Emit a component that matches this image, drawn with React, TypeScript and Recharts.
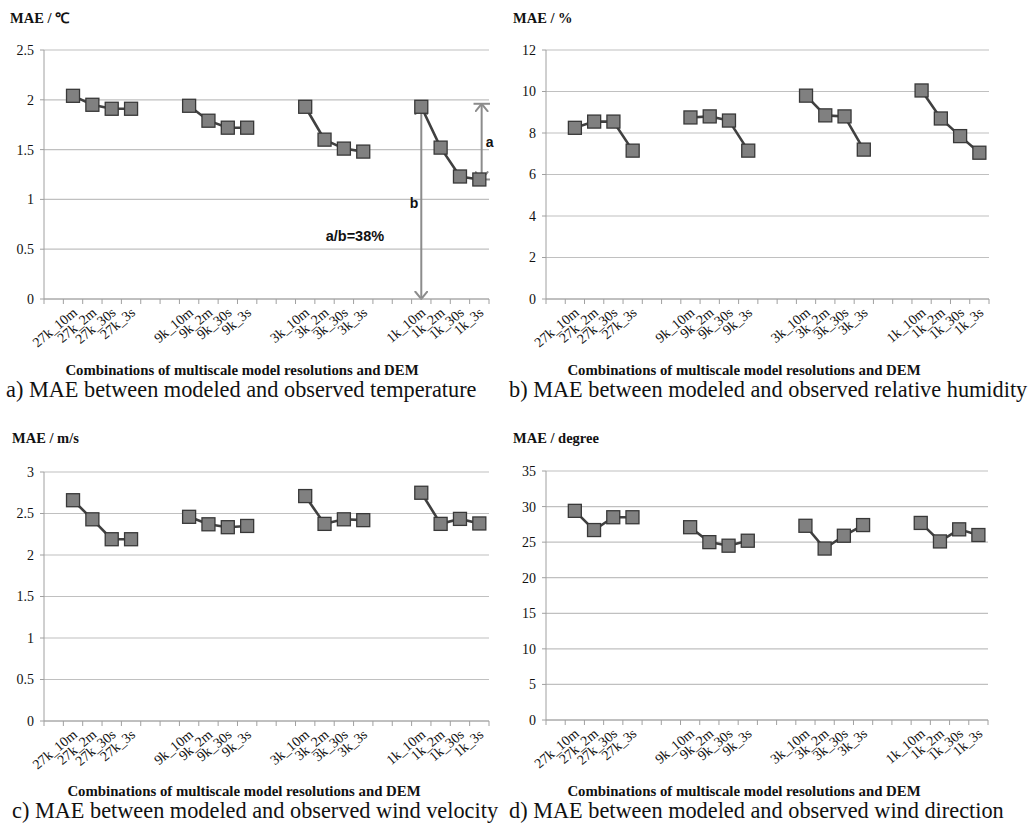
import { LineChart, Line, XAxis, YAxis, CartesianGrid, ReferenceLine, ReferenceDot } from "recharts";

// 23 slots on the x axis; empty strings are the gaps between model groups
const CATEGORIES = [
  "", "27k_10m", "27k_2m", "27k_30s", "27k_3s", "", "",
  "9k_10m", "9k_2m", "9k_30s", "9k_3s", "", "",
  "3k_10m", "3k_2m", "3k_30s", "3k_3s", "", "",
  "1k_10m", "1k_2m", "1k_30s", "1k_3s",
];

const TEMP = [2.04, 1.95, 1.91, 1.91, 1.94, 1.79, 1.72, 1.72, 1.93, 1.6, 1.51, 1.48, 1.93, 1.52, 1.23, 1.2];
const RH = [8.25, 8.55, 8.55, 7.15, 8.75, 8.8, 8.6, 7.15, 9.8, 8.85, 8.8, 7.2, 10.05, 8.7, 7.85, 7.05];
const WS = [2.66, 2.43, 2.19, 2.19, 2.46, 2.37, 2.335, 2.35, 2.71, 2.375, 2.43, 2.42, 2.75, 2.375, 2.435, 2.38];
const WD = [29.4, 26.7, 28.5, 28.5, 27.1, 25.0, 24.5, 25.2, 27.3, 24.1, 25.9, 27.4, 27.7, 25.1, 26.8, 26.0];

const TICKS_A = [0, 0.5, 1, 1.5, 2, 2.5];
const TICKS_B = [0, 2, 4, 6, 8, 10, 12];
const TICKS_C = [0, 0.5, 1, 1.5, 2, 2.5, 3];
const TICKS_D = [0, 5, 10, 15, 20, 25, 30, 35];

const X_TICKS = CATEGORIES.map((_, i) => i).concat(CATEGORIES.length);

const SERIF = "'Liberation Serif', 'Times New Roman', serif";
const SANS = "'Liberation Sans', Arial, sans-serif";
const AXIS = "#a0a0a0";
const GRID = "#c0c0c0";
const INK = "#111";
const ARROW = "#8c8c8c";

const X_TITLE = "Combinations of multiscale model resolutions and DEM";

function buildData(values: number[]) {
  let k = 0;
  return CATEGORIES.map((c, i) => ({ x: i + 0.5, v: c ? values[k++] : null }));
}

const PW = 515;
const PH = 413;

function SquareDot(props: any) {
  const { cx, cy, index } = props;
  if (cy == null || cx == null) return <g key={index} />;
  return (
    <rect key={index} x={cx - 6.5} y={cy - 6.5} width={13} height={13} fill="#808080" stroke="#383838" strokeWidth={1.3} />
  );
}

function Panel({
  ox, oy, plotLeft, plotRight, plotTop, plotBottom, values, yTicks, unit, unitLeft, unitY, titleCx, titleY, caption, captionLeft, captionY, annotate,
}: any) {
  const yw = 28;
  const xh = 60;
  const plotW = plotRight - plotLeft;
  const step = plotW / CATEGORIES.length;
  const margin = {
    top: plotTop - oy,
    left: plotLeft - ox - yw,
    right: ox + PW - plotRight,
    bottom: oy + PH - plotBottom - xh,
  };
  const data = buildData(values);
  const xTick = ({ x, y, payload }: any) => {
    const label = CATEGORIES[payload.value];
    if (!label) return <g />;
    const tx = x + step / 2 + 5;
    const ty = y + 8;
    return (
      <text x={tx} y={ty} textAnchor="end" fontSize={14} fontFamily={SERIF} fill={INK} transform={`rotate(-40, ${tx}, ${ty})`}>
        {label}
      </text>
    );
  };
  return (
    <div style={{ position: "absolute", left: ox, top: oy, width: PW, height: PH, fontFamily: SERIF }}>
      <div style={{ position: "absolute", left: unitLeft - ox, top: unitY - oy - 8, fontFamily: SERIF, fontWeight: "bold", fontSize: 14.5, lineHeight: "16px", color: INK, whiteSpace: "nowrap" }}>
        {unit}
      </div>
      <div style={{ position: "absolute", left: 0, top: 0 }}>
        <LineChart width={PW} height={PH} data={data} margin={margin}>
          <CartesianGrid vertical={false} stroke={GRID} strokeWidth={1.2} />
          <XAxis
            type="number"
            dataKey="x"
            domain={[0, CATEGORIES.length]}
            ticks={X_TICKS}
            interval={0}
            height={xh}
            stroke={AXIS}
            tickSize={5}
            tickMargin={2}
            tick={xTick}
          />
          <YAxis
            domain={[yTicks[0], yTicks[yTicks.length - 1]]}
            ticks={yTicks}
            interval={0}
            width={yw}
            stroke={AXIS}
            tickSize={4}
            tickMargin={6}
            tick={{ fontSize: 14, fontFamily: SERIF, fill: INK }}
          />
          {annotate && (
            <ReferenceLine
              segment={[{ x: 19.5, y: 0 }, { x: 19.5, y: TEMP[12] }]}
              ifOverflow="visible"
              shape={(p: any) => (
                <line x1={p.x1} y1={p.y1} x2={p.x2} y2={p.y2} stroke={ARROW} strokeWidth={2} markerStart="url(#openArrow)" markerEnd="url(#openArrow)" />
              )}
              label={{ value: "b", position: "left", offset: 3, fontSize: 14, fontFamily: SANS, fill: INK, fontWeight: "bold" }}
            />
          )}
          {annotate && (
            <ReferenceLine
              segment={[{ x: 22.62, y: 1.2 }, { x: 22.62, y: 1.96 }]}
              ifOverflow="visible"
              shape={(p: any) => (
                <line x1={p.x1} y1={p.y1} x2={p.x2} y2={p.y2} stroke={ARROW} strokeWidth={2} markerStart="url(#openArrow)" markerEnd="url(#openArrow)" />
              )}
              label={{ value: "a", position: "right", offset: 4, fontSize: 14, fontFamily: SANS, fill: INK, fontWeight: "bold" }}
            />
          )}
          {annotate && (
            <ReferenceLine segment={[{ x: 22.2, y: 1.96 }, { x: 23.05, y: 1.96 }]} ifOverflow="visible" stroke={ARROW} strokeWidth={2} />
          )}
          {annotate && (
            <ReferenceLine segment={[{ x: 22.3, y: 1.2 }, { x: 23.05, y: 1.2 }]} ifOverflow="visible" stroke={ARROW} strokeWidth={2} />
          )}
          {annotate && (
            <ReferenceDot
              x={16.07}
              y={0.63}
              r={0.1}
              fill="none"
              stroke="none"
              label={{ value: "a/b=38%", position: "center", fontSize: 14.5, fontFamily: SANS, fill: INK, fontWeight: "bold" }}
            />
          )}
          <Line
            dataKey="v"
            stroke="#404040"
            strokeWidth={2.6}
            dot={SquareDot}
            activeDot={false}
            isAnimationActive={false}
          />
        </LineChart>
      </div>
      <div style={{ position: "absolute", left: titleCx - ox - 250, width: 500, top: titleY - oy - 7, textAlign: "center", fontFamily: SERIF, fontWeight: "bold", fontSize: 14.8, lineHeight: "14px", color: INK, whiteSpace: "nowrap" }}>
        {X_TITLE}
      </div>
      <div style={{ position: "absolute", left: captionLeft - ox, top: captionY - oy - 11, fontFamily: SERIF, fontSize: 22.3, lineHeight: "22px", color: INK, whiteSpace: "nowrap" }}>
        {caption}
      </div>
    </div>
  );
}

export default function App() {
  return (
    <div style={{ position: "absolute", left: 0, top: 0, width: 1030, height: 825, background: "#fff", overflow: "hidden" }}>
      <svg width={0} height={0} style={{ position: "absolute" }}>
        <defs>
          <marker id="openArrow" viewBox="0 0 9 14" refX={8.5} refY={7} markerWidth={9} markerHeight={14} markerUnits="userSpaceOnUse" orient="auto-start-reverse">
            <path d="M0.5,0.5 L8.5,7 L0.5,13.5" fill="none" stroke={ARROW} strokeWidth={2} />
          </marker>
        </defs>
      </svg>
      <Panel
        ox={0} oy={0} plotLeft={44} plotRight={489} plotTop={50} plotBottom={299}
        values={TEMP} yTicks={TICKS_A} unit="MAE / ℃" unitLeft={10} unitY={18}
        titleCx={242} titleY={370} caption="a) MAE between modeled and observed temperature" captionLeft={6} captionY={390}
        annotate
      />
      <Panel
        ox={515} oy={0} plotLeft={546} plotRight={989} plotTop={50} plotBottom={299}
        values={RH} yTicks={TICKS_B} unit="MAE / %" unitLeft={513} unitY={18}
        titleCx={744} titleY={370} caption="b) MAE between modeled and observed relative humidity" captionLeft={509} captionY={390}
      />
      <Panel
        ox={0} oy={412} plotLeft={44} plotRight={489} plotTop={472} plotBottom={721}
        values={WS} yTicks={TICKS_C} unit="MAE / m/s" unitLeft={12} unitY={438}
        titleCx={244} titleY={791} caption="c) MAE between modeled and observed wind velocity" captionLeft={12} captionY={811}
      />
      <Panel
        ox={515} oy={412} plotLeft={546} plotRight={988} plotTop={471} plotBottom={720}
        values={WD} yTicks={TICKS_D} unit="MAE / degree" unitLeft={513} unitY={438}
        titleCx={744} titleY={791} caption="d) MAE between modeled and observed wind direction" captionLeft={509} captionY={811}
      />
    </div>
  );
}
